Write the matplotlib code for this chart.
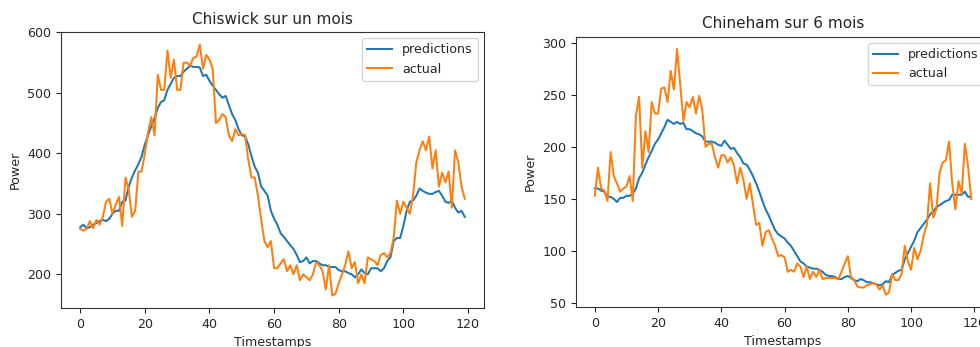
import matplotlib
matplotlib.use("Agg")
import matplotlib.pyplot as plt
import numpy as np

# ---- Chiswick (left) ----
chiswick_pred = [278, 282, 276, 278, 282, 285, 288, 290, 288, 292,
                 300, 305, 305, 320, 322, 345, 360, 372, 382, 395,
                 415, 430, 445, 458, 475, 485, 488, 505, 515, 525,
                 528, 528, 535, 540, 545, 543, 543, 542, 528, 530,
                 520, 512, 505, 498, 492, 495, 480, 465, 455, 440,
                 430, 428, 415, 395, 378, 368, 345, 338, 330, 305,
                 292, 282, 268, 262, 255, 248, 242, 232, 220, 222,
                 228, 218, 222, 222, 218, 215, 215, 212, 212, 212,
                 207, 205, 205, 202, 200, 195, 200, 208, 202, 200,
                 210, 210, 210, 205, 210, 222, 228, 255, 260, 260,
                 280, 305, 320, 322, 330, 342, 338, 335, 333, 333,
                 336, 338, 330, 320, 318, 322, 310, 302, 305, 295]
chiswick_actual = [275, 272, 275, 288, 276, 290, 282, 295, 320, 325,
                   300, 315, 328, 280, 360, 340, 295, 305, 370, 370,
                   400, 435, 460, 430, 530, 505, 505, 570, 525, 555,
                   505, 505, 550, 550, 545, 558, 560, 580, 540, 563,
                   555, 540, 450, 455, 465, 460, 430, 420, 440, 430,
                   432, 430, 390, 360, 360, 330, 290, 255, 245, 255,
                   210, 210, 218, 225, 205, 215, 200, 215, 190, 200,
                   195, 190, 200, 220, 215, 205, 175, 215, 165, 168,
                   185, 200, 215, 238, 210, 220, 185, 200, 185, 228,
                   225, 222, 215, 232, 235, 228, 235, 260, 322, 300,
                   320, 310, 300, 330, 385, 405, 420, 405, 428, 375,
                   405, 345, 368, 352, 370, 310, 405, 385, 345, 325]

# ---- Chineham (right) ----
chineham_pred = [160, 160, 158, 157, 152, 152, 150, 147, 151, 151,
                 153, 153, 155, 160, 170, 175, 183, 190, 196, 203,
                 207, 213, 219, 226, 224, 222, 224, 222, 223, 217,
                 217, 215, 213, 212, 210, 205, 205, 205, 204, 202,
                 201, 206, 202, 198, 199, 194, 190, 184, 183, 178,
                 172, 165, 157, 148, 140, 134, 127, 120, 116, 114,
                 112, 108, 105, 100, 95, 90, 88, 85, 84, 83,
                 83, 82, 80, 77, 76, 76, 75, 73, 73, 75,
                 76, 74, 72, 71, 73, 72, 70, 70, 69, 68,
                 67, 68, 71, 70, 77, 79, 81, 82, 92, 98,
                 104, 110, 118, 122, 126, 130, 135, 138, 142, 144,
                 146, 148, 149, 154, 154, 154, 154, 157, 152, 152]
chineham_actual = [153, 180, 160, 158, 148, 195, 172, 165, 157, 160,
                   162, 172, 148, 230, 248, 180, 215, 195, 243, 232,
                   232, 256, 257, 243, 273, 255, 294, 260, 225, 243,
                   238, 248, 232, 249, 235, 200, 203, 203, 190, 180,
                   192, 192, 185, 190, 182, 165, 180, 168, 150, 165,
                   145, 125, 127, 105, 118, 120, 112, 105, 95, 96,
                   94, 80, 82, 80, 88, 85, 75, 85, 73, 80,
                   75, 82, 73, 74, 74, 74, 74, 73, 80, 88,
                   95, 75, 72, 66, 65, 65, 67, 68, 69, 68,
                   63, 67, 58, 60, 78, 72, 72, 78, 105, 90,
                   82, 103, 92, 100, 115, 125, 165, 132, 140, 175,
                   185, 187, 205, 165, 140, 167, 155, 203, 182, 150]

titles = ["Chiswick sur un mois", "Chineham sur 6 mois"]
xlabel = "Timestamps"
ylabel = "Power"

plt.rcParams["font.size"] = 9.1
plt.rcParams["axes.titlesize"] = 11
plt.rcParams["text.color"] = "#262626"
plt.rcParams["axes.labelcolor"] = "#262626"
plt.rcParams["xtick.color"] = "#262626"
plt.rcParams["ytick.color"] = "#262626"
plt.rcParams["axes.edgecolor"] = "#333333"

fig = plt.figure(figsize=(9.8, 3.47), dpi=100)
W, H = 980.0, 347.0
ax1 = fig.add_axes([61 / W, (H - 308) / H, (484 - 61) / W, (308 - 32) / H])
ax2 = fig.add_axes([576 / W, (H - 307) / H, (990 - 576) / W, (307 - 36.7) / H])

for ax, pred, act, title in [(ax1, chiswick_pred, chiswick_actual, titles[0]),
                             (ax2, chineham_pred, chineham_actual, titles[1])]:
    x = np.arange(len(pred))
    ax.plot(x, pred, color="#1f77b4", label="predictions", lw=1.45)
    ax.plot(x, act, color="#ff7f0e", label="actual", lw=1.45)
    ax.set_title(title)
    ax.set_xlabel(xlabel)
    ax.set_ylabel(ylabel)
    ax.legend(loc="upper right")

fig.savefig("out.png", dpi=100)
